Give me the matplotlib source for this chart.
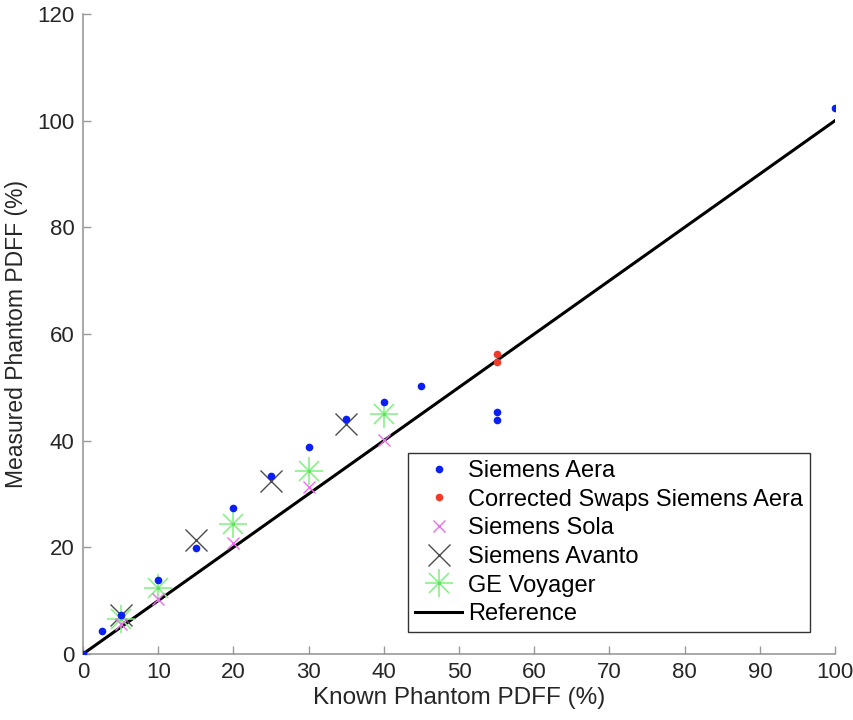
import matplotlib
matplotlib.use('Agg')
import matplotlib.pyplot as plt
from matplotlib.lines import Line2D

plt.rcParams['font.family'] = ['Liberation Sans', 'DejaVu Sans']

# Measured vs known phantom PDFF values
aeraKnown = [0, 2.5, 5, 10, 15, 20, 25, 30, 35, 40, 45, 55, 55, 100]
aeraMeas = [0, 4.3, 7.3, 13.9, 19.9, 27.4, 33.4, 38.8, 44.1, 47.3, 50.3,
            45.3, 43.8, 102.3]

swapKnown = [55, 55]
swapMeas = [56.2, 54.7]

solaKnown = [5, 10, 20, 30, 40]
solaMeas = [5.6, 10.4, 20.8, 31.4, 40.1]

avantoKnown = [5, 15, 25, 35]
avantoMeas = [7.4, 21.4, 32.4, 43.2]

geKnown = [5, 10, 20, 30, 40]
geMeas = [6.6, 12.3, 24.4, 34.4, 45.0]

refLine = [0, 100]

labels = ['Siemens Aera', 'Corrected Swaps Siemens Aera', 'Siemens Sola',
          'Siemens Avanto', 'GE Voyager', 'Reference']

fig = plt.figure(figsize=(8.54, 7.2), dpi=100)
ax = fig.add_axes([0.0972, 0.0917, 0.8806, 0.8889])

ax.plot(refLine, refLine, color='black', lw=2.2, zorder=2)
ax.plot(avantoKnown, avantoMeas, 'x', color='#4d4d4d', ms=16, mew=1.0,
        zorder=3)
# asterisk built from two overlapping markers (plus + x) and a centre dot
ax.plot(geKnown, geMeas, '+', color='#80f080', ms=20, mew=1.1, zorder=3)
ax.plot(geKnown, geMeas, 'x', color='#80f080', ms=14, mew=1.1, zorder=3)
ax.plot(geKnown, geMeas, '.', color='#60e060', ms=3, zorder=3)
ax.plot(solaKnown, solaMeas, 'x', color='#ee6bee', ms=9, mew=1.0, zorder=3)
ax.plot(aeraKnown, aeraMeas, 'o', color='#0a1ff5', ms=5.5, mec='none',
        zorder=4)
ax.plot(swapKnown, swapMeas, 'o', color='#f03a2a', ms=5.5, mec='none',
        zorder=4)

ax.set_xlim(0, 100)
ax.set_ylim(0, 120)
ax.set_xticks(range(0, 101, 10))
ax.set_yticks(range(0, 121, 20))

for side in ['top', 'right']:
    ax.spines[side].set_visible(False)
for side in ['left', 'bottom']:
    ax.spines[side].set_color('#999999')
    ax.spines[side].set_linewidth(1.2)
ax.tick_params(direction='in', length=6, width=1.0, color='#999999',
               labelsize=16, labelcolor='#262626', pad=6)

ax.set_xlabel('Known Phantom PDFF (%)', fontsize=17.5, color='#262626',
              labelpad=3)
ax.set_ylabel('Measured Phantom PDFF (%)', fontsize=16.5, color='#262626',
              labelpad=7)

# Legend with custom asterisk handle for GE Voyager
handles = [
    Line2D([], [], ls='none', marker='o', color='#0a1ff5', ms=5.5, mec='none'),
    Line2D([], [], ls='none', marker='o', color='#f03a2a', ms=5.5, mec='none'),
    Line2D([], [], ls='none', marker='x', color='#ee6bee', ms=9, mew=1.0),
    Line2D([], [], ls='none', marker='x', color='#4d4d4d', ms=16, mew=1.0),
    (Line2D([], [], ls='none', marker='+', color='#80f080', ms=20, mew=1.1),
     Line2D([], [], ls='none', marker='x', color='#80f080', ms=14, mew=1.1),
     Line2D([], [], ls='none', marker='.', color='#60e060', ms=3)),
    Line2D([], [], color='black', lw=2.2),
]
leg = ax.legend(handles, labels, loc='lower right',
                bbox_to_anchor=(0.967, 0.034), fontsize=17, frameon=True,
                fancybox=False, edgecolor='#333333', framealpha=1,
                handlelength=2.0, handletextpad=0.25, labelspacing=0.28,
                borderpad=0.3, borderaxespad=0)
leg.get_frame().set_linewidth(1.0)

fig.savefig('out.png', dpi=100)
